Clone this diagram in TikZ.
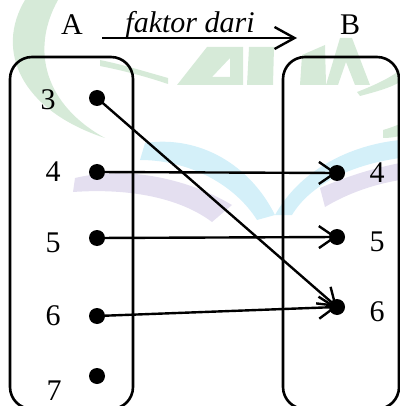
\documentclass[tikz,border=0pt]{standalone}
\usepackage{fontspec}
\setmainfont{Liberation Serif}
\usetikzlibrary{arrows.meta}
\definecolor{wmgreen}{RGB}{214,234,216}
\definecolor{wmblue}{RGB}{212,240,249}
\definecolor{wmpurple}{RGB}{228,223,240}
\tikzset{
  setbox/.style={draw, line width=1.3pt, rounded corners=11pt},
  dot/.style={circle, fill, inner sep=0pt, minimum size=8pt},
  lbl/.style={font=\fontsize{15pt}{17pt}\selectfont, inner sep=0pt},
  maparrow/.style={line width=1.2pt, -{Straight Barb[length=8pt,width=11pt,line width=1.2pt]}},
  titlearrow/.style={line width=1.2pt, -{Straight Barb[length=10pt,width=11pt,line width=1.2pt]}}
}
\begin{document}
\begin{tikzpicture}[x=0.5pt,y=-0.5pt]
\useasboundingbox (0,0) rectangle (400,406);
\clip (0,0) rectangle (400,406);
% watermark
\fill[wmgreen] (25,0) .. controls (-5,50) and (20,110) .. (105,138) .. controls (45,105) and (30,50) .. (58,0) -- cycle;
\fill[wmgreen] (100,66) .. controls (130,72) and (150,78) .. (168,84) -- (168,78) .. controls (140,70) and (120,64) .. (100,60) -- cycle;
\fill[wmgreen, even odd rule] (177,85) -- (207,47) -- (243,47) -- (243,85) -- cycle (212,77) -- (230,58) -- (230,77) -- cycle;
\fill[wmgreen] (249,47) -- (274,47) -- (273,85) -- (247,85) -- cycle;
\fill[wmgreen] (300,85) -- (302,55) -- (325,45) -- (326,85) -- cycle;
\fill[wmgreen] (326,85) -- (340,38) -- (352,38) -- (370,85) -- (355,85) -- (346,62) -- (338,85) -- cycle;
\fill[wmgreen] (357,92) .. controls (375,85) and (390,78) .. (400,70) -- (400,82) .. controls (390,88) and (375,92) .. (360,96) -- cycle;
\fill[wmgreen] (383,130) .. controls (390,128) and (395,126) .. (400,124) -- (400,136) .. controls (395,137) and (390,138) .. (383,138) -- cycle;
\fill[wmpurple] (73,192) -- (75,178) .. controls (130,165) and (190,180) .. (232,205) -- (212,222) .. controls (180,198) and (130,188) .. (73,192) -- cycle;
\fill[wmblue] (140,160) -- (145,143) .. controls (200,135) and (250,165) .. (275,215) -- (257,220) .. controls (235,185) and (190,160) .. (140,160) -- cycle;
\fill[wmblue] (275,215) .. controls (300,170) and (350,145) .. (400,140) -- (400,158) .. controls (350,165) and (310,185) .. (292,215) -- cycle;
\fill[wmpurple] (320,188) .. controls (350,175) and (375,168) .. (400,163) -- (400,180) .. controls (370,185) and (345,195) .. (325,207) -- cycle;
% boxes
\draw[setbox] (10,57) rectangle (133,409);
\draw[setbox] (283,57) rectangle (399,409);
% titles
\node[lbl] (A) at (72,25) {A};
\node[lbl] (B) at (350,25) {B};
\node[lbl, anchor=base] (f) at (190,33) {\itshape faktor dari};
\coordinate (ts) at (102,38);
\coordinate (te) at (297,38);
\draw[titlearrow] (ts) -- (te);
% left elements
\node[lbl] (la3) at (48,100) {3};
\node[lbl] (la4) at (53,172) {4};
\node[lbl] (la5) at (53,243) {5};
\node[lbl] (la6) at (53,316) {6};
\node[lbl] (la7) at (54,391) {7};
% right elements
\node[lbl] (lb4) at (377,173) {4};
\node[lbl] (lb5) at (377,242) {5};
\node[lbl] (lb6) at (377,312) {6};
% dots (coordinates)
\coordinate (a3) at (97,98);
\coordinate (a4) at (97,172);
\coordinate (a5) at (97,238);
\coordinate (a6) at (97,316);
\coordinate (a7) at (97,376);
\coordinate (b4) at (337,173);
\coordinate (b5) at (337,237);
\coordinate (b6) at (337,307);
% arrows
\draw[maparrow] (a3) -- (b6);
\draw[maparrow] (a4) -- (b4);
\draw[maparrow] (a5) -- (b5);
\draw[maparrow] (a6) -- (b6);
% dots
\foreach \p in {a3,a4,a5,a6,a7,b4,b5,b6} \node[dot] (d\p) at (\p) {};
\end{tikzpicture}
\end{document}
